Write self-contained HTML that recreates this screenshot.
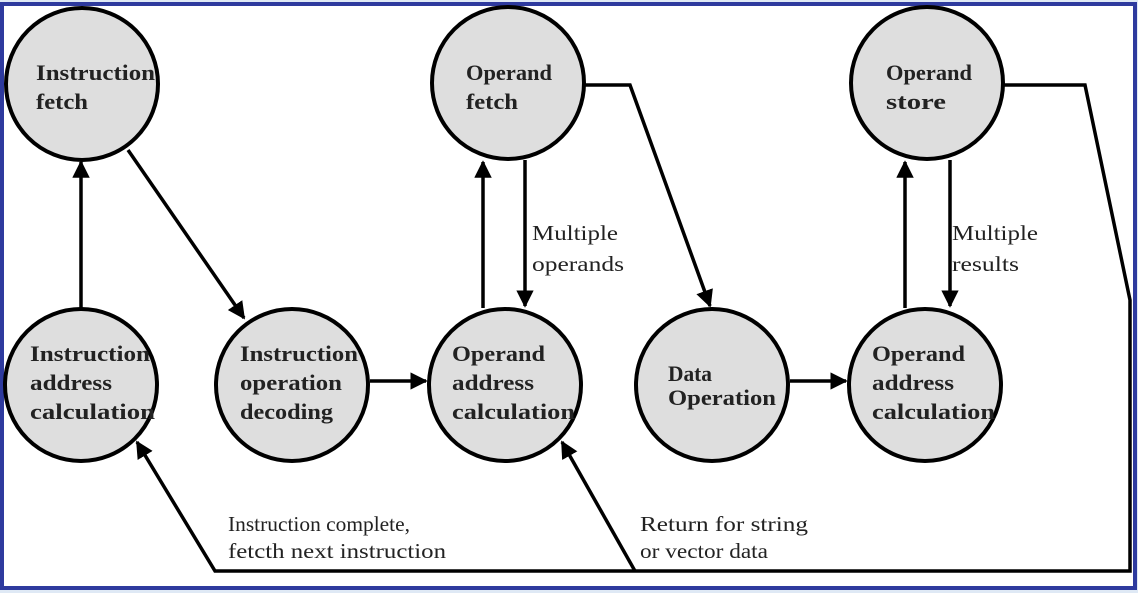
<!DOCTYPE html>
<html><head><meta charset="utf-8"><style>
html,body{margin:0;padding:0;background:#dfe9f5;}
svg{display:block}
</style></head><body>
<svg width="1138" height="593" viewBox="0 0 1138 593" xmlns="http://www.w3.org/2000/svg">
<defs><marker id="a" viewBox="0 0 10 10" refX="9" refY="5" markerWidth="5" markerHeight="5" orient="auto"><path d="M0,0 L10,5 L0,10 z" fill="#000"/></marker></defs>
<rect x="2" y="4" width="1133" height="584" fill="#fff" stroke="#2e3a9e" stroke-width="4"/>
<g fill="#dedede" stroke="#000" stroke-width="4">
<circle cx="82" cy="84" r="76"/><circle cx="508" cy="83" r="76"/><circle cx="927" cy="83" r="76"/>
<circle cx="81" cy="385" r="76"/><circle cx="292" cy="385" r="76"/><circle cx="505" cy="385" r="76"/>
<circle cx="712" cy="385" r="76"/><circle cx="925" cy="385" r="76"/>
</g>
<g stroke="#000" stroke-width="3.5" fill="none" marker-end="url(#a)">
<line x1="81" y1="308" x2="81" y2="162"/>
<line x1="128" y1="150" x2="244" y2="318"/>
<line x1="370" y1="381" x2="426" y2="381"/>
<line x1="483" y1="308" x2="483" y2="162"/>
<line x1="525" y1="160" x2="525" y2="306"/>
<polyline points="585,85 630,85 710,306"/>
<line x1="790" y1="381" x2="846" y2="381"/>
<line x1="905" y1="308" x2="905" y2="162"/>
<line x1="950" y1="160" x2="950" y2="306"/>
<polyline points="1003,85 1085,85 1130,300 1130,571 215,571 137,442"/>
<polyline points="635,571 562,442"/>
</g>
<g font-family="Liberation Serif, serif" font-weight="bold" font-size="22" fill="#222">
<text x="36" y="80" textLength="119" lengthAdjust="spacingAndGlyphs">Instruction</text><text x="36" y="109" textLength="52" lengthAdjust="spacingAndGlyphs">fetch</text>
<text x="466" y="80" textLength="86" lengthAdjust="spacingAndGlyphs">Operand</text><text x="466" y="109" textLength="52" lengthAdjust="spacingAndGlyphs">fetch</text>
<text x="886" y="80" textLength="86" lengthAdjust="spacingAndGlyphs">Operand</text><text x="886" y="109" textLength="60" lengthAdjust="spacingAndGlyphs">store</text>
<text x="30" y="361" textLength="120" lengthAdjust="spacingAndGlyphs">Instruction</text><text x="30" y="390" textLength="82" lengthAdjust="spacingAndGlyphs">address</text><text x="30" y="419" textLength="125" lengthAdjust="spacingAndGlyphs">calculation</text>
<text x="240" y="361" textLength="118" lengthAdjust="spacingAndGlyphs">Instruction</text><text x="240" y="390" textLength="102" lengthAdjust="spacingAndGlyphs">operation</text><text x="240" y="419" textLength="93" lengthAdjust="spacingAndGlyphs">decoding</text>
<text x="452" y="361" textLength="93" lengthAdjust="spacingAndGlyphs">Operand</text><text x="452" y="390" textLength="82" lengthAdjust="spacingAndGlyphs">address</text><text x="452" y="419" textLength="123" lengthAdjust="spacingAndGlyphs">calculation</text>
<text x="668" y="381" textLength="44" lengthAdjust="spacingAndGlyphs">Data</text><text x="668" y="405" textLength="108" lengthAdjust="spacingAndGlyphs">Operation</text>
<text x="872" y="361" textLength="93" lengthAdjust="spacingAndGlyphs">Operand</text><text x="872" y="390" textLength="82" lengthAdjust="spacingAndGlyphs">address</text><text x="872" y="419" textLength="123" lengthAdjust="spacingAndGlyphs">calculation</text>
</g>
<g font-family="Liberation Serif, serif" font-size="21" fill="#222">
<text x="532" y="240" textLength="86" lengthAdjust="spacingAndGlyphs">Multiple</text><text x="532" y="271" textLength="92" lengthAdjust="spacingAndGlyphs">operands</text>
<text x="952" y="240" textLength="86" lengthAdjust="spacingAndGlyphs">Multiple</text><text x="952" y="271" textLength="67" lengthAdjust="spacingAndGlyphs">results</text>
<text x="228" y="531" textLength="182" lengthAdjust="spacingAndGlyphs">Instruction complete,</text><text x="228" y="558" textLength="218" lengthAdjust="spacingAndGlyphs">fetcth next instruction</text>
<text x="640" y="531" textLength="168" lengthAdjust="spacingAndGlyphs">Return for string</text><text x="640" y="558" textLength="128" lengthAdjust="spacingAndGlyphs">or vector data</text>
</g>
</svg>
</body></html>
